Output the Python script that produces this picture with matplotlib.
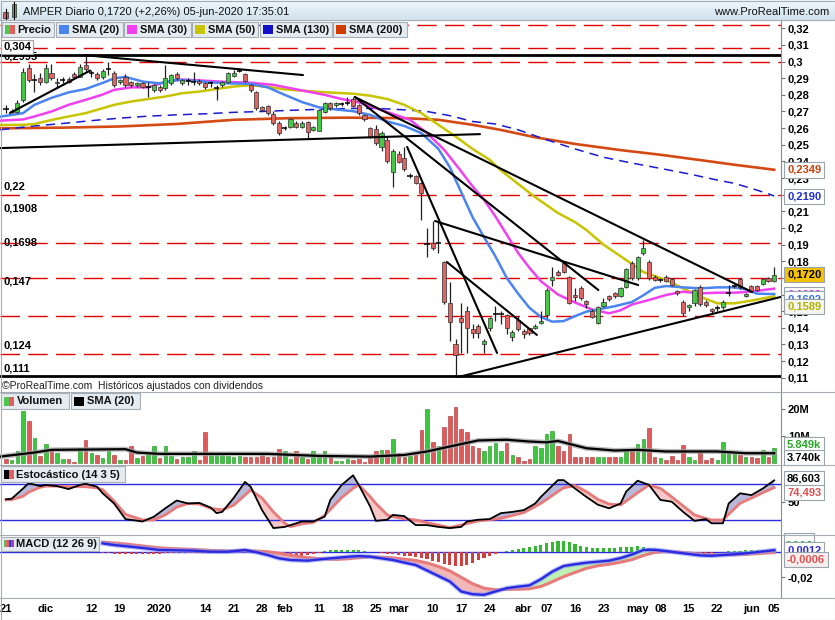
import numpy as np
import pandas as pd
import matplotlib
matplotlib.use('Agg')
import matplotlib.pyplot as plt
from matplotlib.patches import Rectangle
from matplotlib.colors import LinearSegmentedColormap

plt.rcParams['font.family'] = ['Liberation Sans', 'DejaVu Sans']

# Sesiones de la bolsa (sin festivos)
festivos = ['2019-12-25', '2019-12-26', '2020-01-01', '2020-04-10', '2020-04-13', '2020-05-01']
sesiones = pd.bdate_range('2019-11-21', '2020-06-05')
sesiones = sesiones[~sesiones.isin(pd.to_datetime(festivos))]

# Velas diarias AMPER
apertura = [.2715, .2695, .2699, .2769, .2959, .2889, .2899, .2879, .2933, .2869,
            .2889, .2893, .2925, .2909, .2979, .2933, .2925, .2905, .2953, .2933,
            .2875, .2909, .2875, .2859, .2869, .2849, .2829, .2849, .2839, .2869,
            .2925, .2869, .2885, .2879, .2885, .2869, .2869, .2839, .2859, .2879,
            .2913, .2945, .2925, .2859, .2819, .2725, .2733, .2685, .2629, .2599,
            .2609, .2629, .2609, .2639, .2589, .2585, .2699, .2749, .2740, .2745,
            .2753, .2773, .2739, .2679, .2599, .2593, .2485, .2528, .2338, .2443,
            .2419, .2312, .2312, .2268, .1903, .1910, .1908, .1797, .1547, .1301,
            .1461, .1501, .1391, .1411, .1303, .1397, .1483, .1483, .1477, .1346,
            .1447, .1381, .1397, .1397, .1430, .1477, .1690, .1737, .1788, .1703,
            .1600, .1637, .1560, .1503, .1427, .1531, .1591, .1607, .1591, .1647,
            .1788, .1697, .1848, .1797, .1707, .1690, .1703, .1693, .1623, .1557,
            .1523, .1547, .1643, .1557, .1513, .1517, .1523, .1607, .1651, .1693,
            .1591, .1651, .1651, .1663, .1697, .1680]
maximo = [.2740, .2715, .2769, .2960, .2985, .2925, .2930, .2985, .2985, .2900,
          .2905, .2905, .2935, .2985, .3039, .2950, .2935, .2955, .2999, .2945,
          .2895, .2925, .2885, .2880, .2875, .2879, .2865, .2860, .2979, .2925,
          .2935, .2895, .2900, .2939, .2895, .2880, .2885, .2860, .2885, .2935,
          .2950, .2960, .2930, .2865, .2825, .2735, .2740, .2700, .2640, .2615,
          .2660, .2640, .2640, .2645, .2615, .2715, .2755, .2760, .2760, .2760,
          .2787, .2787, .2745, .2685, .2605, .2620, .2580, .2550, .2475, .2460,
          .2485, .2330, .2320, .2275, .1998, .2040, .2037, .1800, .1677, .1331,
          .1547, .1530, .1420, .1420, .1335, .1465, .1530, .1500, .1485, .1385,
          .1470, .1390, .1400, .1420, .1500, .1640, .1767, .1750, .1800, .1710,
          .1640, .1650, .1570, .1510, .1530, .1580, .1600, .1615, .1645, .1760,
          .1800, .1830, .1928, .1810, .1715, .1700, .1715, .1700, .1630, .1565,
          .1545, .1635, .1660, .1565, .1520, .1535, .1565, .1660, .1665, .1700,
          .1610, .1660, .1660, .1700, .1705, .1767]
minimo = [.2690, .2688, .2692, .2760, .2880, .2819, .2860, .2870, .2890, .2840,
          .2870, .2870, .2900, .2905, .2945, .2905, .2890, .2895, .2919, .2845,
          .2865, .2850, .2850, .2850, .2840, .2789, .2820, .2820, .2830, .2860,
          .2890, .2860, .2860, .2860, .2860, .2835, .2850, .2769, .2850, .2870,
          .2905, .2935, .2880, .2820, .2710, .2700, .2680, .2620, .2560, .2590,
          .2600, .2600, .2600, .2539, .2580, .2580, .2690, .2710, .2730, .2735,
          .2740, .2725, .2680, .2645, .2540, .2500, .2460, .2390, .2248, .2390,
          .2345, .2300, .2265, .2048, .1827, .1870, .1848, .1540, .1322, .1106,
          .1247, .1247, .1340, .1340, .1247, .1380, .1440, .1420, .1360, .1320,
          .1380, .1340, .1355, .1390, .1420, .1460, .1650, .1710, .1730, .1540,
          .1560, .1570, .1520, .1460, .1420, .1525, .1560, .1580, .1585, .1640,
          .1690, .1690, .1840, .1690, .1680, .1675, .1675, .1650, .1600, .1470,
          .1500, .1530, .1530, .1525, .1490, .1500, .1515, .1590, .1640, .1635,
          .1585, .1615, .1620, .1655, .1675, .1675]
cierre = [.2714, .2702, .2753, .2939, .2889, .2890, .2879, .2959, .2899, .2879,
          .2890, .2880, .2909, .2969, .2953, .2934, .2899, .2945, .2954, .2859,
          .2887, .2859, .2859, .2869, .2845, .2850, .2859, .2829, .2899, .2919,
          .2899, .2889, .2886, .2880, .2869, .2845, .2870, .2840, .2879, .2929,
          .2933, .2946, .2885, .2829, .2719, .2709, .2689, .2629, .2569, .2600,
          .2653, .2609, .2629, .2579, .2609, .2709, .2749, .2719, .2752, .2746,
          .2754, .2733, .2689, .2653, .2548, .2509, .2569, .2402, .2462, .2398,
          .2352, .2313, .2272, .2208, .1904, .1880, .1909, .1553, .1433, .1236,
          .1433, .1397, .1367, .1367, .1322, .1457, .1484, .1484, .1397, .1376,
          .1391, .1363, .1367, .1411, .1440, .1627, .1705, .1717, .1737, .1547,
          .1585, .1577, .1545, .1467, .1523, .1557, .1571, .1591, .1637, .1751,
          .1697, .1824, .1878, .1697, .1687, .1691, .1683, .1657, .1607, .1491,
          .1537, .1627, .1543, .1537, .1501, .1518, .1557, .1608, .1652, .1643,
          .1603, .1623, .1627, .1695, .1682, .1720]

# Volumen en millones
volumen = [1.5, 1.25, 4.75, 19.6, 15.6, 9.4, 2.75, 7.1, 4.75, 3.75,
           1.5, 1.5, 0.6, 5.6, 8.75, 3.75, 3.1, 1.9, 4.4, 3.1,
           1.25, 1.25, 6.25, 1.9, 2.75, 3.75, 6.25, 1.9, 6.25, 2.75,
           1.5, 2.25, 2.25, 4.4, 1.25, 11.5, 3.1, 3.75, 3.1, 2.75,
           2.25, 2.75, 2.25, 2.5, 2.25, 3.5, 2.25, 2.25, 5.25, 4.75,
           1.5, 4.75, 2.25, 1.5, 4.75, 2.75, 4.75, 2.75, 1.0, 1.0,
           1.5, 1.25, 1.5, 0.6, 2.5, 4.75, 5.0, 5.0, 9.0, 4.0,
           2.5, 2.75, 3.5, 12.5, 20.0, 8.1, 6.25, 13.5, 17.5, 21.0,
           12.75, 11.5, 6.25, 5.6, 4.75, 6.25, 7.5, 4.75, 7.5, 3.1,
           2.5, 1.0, 1.5, 6.5, 5.6, 11.0, 11.9, 6.25, 4.75, 11.0,
           2.25, 2.5, 2.25, 2.5, 2.5, 2.25, 2.5, 2.5, 2.25, 4.4,
           4.75, 7.25, 9.0, 13.1, 2.5, 1.9, 1.25, 2.75, 1.25, 6.9,
           2.5, 1.25, 4.75, 1.25, 1.9, 1.25, 8.1, 3.75, 3.75, 3.1,
           2.25, 2.25, 1.9, 5.0, 2.5, 5.85]

# Medias moviles (sesion, valor)
sma20_x = [-1, 3, 5, 8, 11, 14, 17, 19, 21, 24, 27, 30, 33, 36, 39, 43, 46, 49, 52, 55,
           58, 61, 64, 67, 70, 73, 76, 78, 80, 82, 84, 86, 88, 90, 92, 94, 96, 98, 100, 102,
           104, 107, 110, 112, 114, 116, 119, 122, 125, 128, 130, 132, 135]
sma20_y = [.2669, .2690, .2740, .2782, .2815, .2835, .2872, .2899, .2908, .2880,
           .2869, .2890, .2885, .2875, .2869, .2866, .2845, .2800, .2757, .2725,
           .2712, .2702, .2680, .2640, .2613, .2570, .2475, .2365, .2215, .2065,
           .1945, .1830, .1700, .1605, .1520, .1465, .1437, .1440, .1470, .1497,
           .1510, .1530, .1555, .1595, .1640, .1651, .1643, .1637, .1643, .1643,
           .1631, .1605, .1603]
sma30_x = [-1, 3, 5, 8, 11, 14, 17, 19, 22, 25, 28, 31, 34, 38, 43, 47, 50, 53, 56, 59,
           62, 65, 68, 71, 74, 77, 80, 82, 84, 86, 88, 90, 92, 94, 97, 100, 103, 106, 108, 110,
           113, 116, 119, 122, 125, 128, 131, 134, 135]
sma30_y = [.2645, .2652, .2670, .2700, .2740, .2770, .2802, .2830, .2845, .2845,
           .2878, .2892, .2887, .2879, .2873, .2860, .2840, .2820, .2800, .2775,
           .2755, .2720, .2685, .2650, .2570, .2470, .2340, .2250, .2170, .2070,
           .1960, .1850, .1760, .1680, .1600, .1552, .1510, .1487, .1505, .1540,
           .1567, .1597, .1617, .1607, .1611, .1611, .1617, .1631, .1635]
sma50_x = [-1, 3, 5, 8, 11, 14, 17, 19, 22, 25, 28, 31, 34, 37, 40, 43, 46, 49, 52, 55,
           58, 61, 64, 67, 70, 73, 76, 79, 82, 85, 87, 90, 93, 97, 100, 102, 105, 109, 112, 116,
           119, 122, 125, 128, 131, 134, 135]
sma50_y = [.2619, .2620, .2625, .2649, .2670, .2690, .2720, .2740, .2760, .2775,
           .2790, .2810, .2820, .2835, .2850, .2858, .2848, .2833, .2825, .2818,
           .2812, .2807, .2795, .2775, .2740, .2690, .2620, .2550, .2475, .2410,
           .2345, .2265, .2185, .2090, .2035, .1988, .1900, .1807, .1735, .1687,
           .1637, .1587, .1547, .1547, .1563, .1583, .1589]
sma130_x = [-1, 5, 10, 15, 20, 25, 30, 35, 40, 45, 50, 55, 60, 65, 70, 74, 78, 82, 86, 90,
            95, 100, 105, 110, 115, 120, 125, 128, 131, 134, 135]
sma130_y = [.2590, .2613, .2628, .2645, .2660, .2672, .2680, .2686, .2695, .2700,
            .2707, .2713, .2718, .2719, .2710, .2700, .2675, .2640, .2625, .2590,
            .2530, .2475, .2425, .2390, .2358, .2325, .2288, .2268, .2238, .2205, .2192]
sma200_x = [-1, 10, 20, 30, 40, 50, 60, 70, 76, 82, 87, 93, 100, 108, 115, 122, 128, 135]
sma200_y = [.2599, .2603, .2610, .2625, .2650, .2660, .2663, .2660, .2650, .2620,
            .2589, .2545, .2505, .2468, .2440, .2408, .2380, .2350]

vol_sma_x = [-1, 5, 8, 21, 23, 27, 46, 55, 64, 70, 74, 78, 83, 88, 92, 95, 97, 102, 107, 111,
             116, 121, 125, 130, 135]
vol_sma_y = [2.5, 4.0, 5.0, 5.25, 4.0, 3.5, 3.5, 2.75, 2.5, 3.1, 4.4, 6.25, 8.5, 8.75, 8.1,
             7.8, 8.3, 5.6, 4.75, 5.0, 4.4, 4.4, 4.4, 3.75, 3.74]

# Estocastico (14 3 5)
sto_x = [0, 1, 3, 4, 6, 7, 9, 11, 13, 14, 16, 17, 19, 21, 24, 26, 28, 30, 32, 34,
         36, 37, 38, 40, 42, 43, 45, 47, 49, 50, 52, 54, 56, 57, 59, 61, 62, 64, 65, 67,
         68, 70, 72, 74, 76, 78, 80, 81, 83, 85, 87, 89, 91, 93, 94, 97, 98, 100, 102, 104,
         106, 108, 109, 111, 113, 115, 117, 119, 121, 123, 124, 126, 127, 129, 131, 133, 135]
sto_k = [55, 56, 73, 82, 77, 79, 77, 72, 79, 81, 76, 65, 48, 22, 18, 26, 40, 53, 48, 49,
         41, 32, 34, 57, 84, 76, 37, 7, 9, 12, 18, 18, 26, 54, 79, 95, 79, 43, 19, 21,
         29, 27, 12, 12, 9, 7, 9, 18, 21, 22, 32, 34, 37, 48, 59, 87, 87, 73, 59, 46,
         40, 48, 68, 86, 79, 54, 51, 34, 19, 22, 15, 15, 48, 65, 62, 73, 86.6]
sto_d = [54, 54.5, 60, 67, 75, 77, 77, 76, 76, 76, 74, 71, 52, 30, 20.6, 20.6, 29, 42, 48, 47,
         40, 38.5, 37.5, 45, 62, 70.6, 57, 34, 15, 9.4, 13.9, 16.5, 28, 38, 58, 73.3, 79, 59.4, 48, 29,
         26, 22.5, 20.6, 16.1, 12, 7.8, 12.2, 14.5, 19, 21, 23.3, 28, 32.8, 43, 48.3, 67.8, 74, 78, 67.8, 55,
         47, 45.6, 52, 66, 78.9, 73.3, 59, 44, 29, 23, 20.6, 20.6, 30, 48.3, 57, 66, 74.5]

# MACD (12 26 9)
macd_x = [17, 19, 21, 23, 25, 27, 30, 33, 36, 39, 42, 44, 46, 48, 50, 53, 56, 58, 60, 62,
          64, 66, 68, 70, 72, 74, 76, 78, 80, 82, 84, 86, 88, 90, 92, 94, 96, 98, 100, 102,
          104, 106, 108, 110, 112, 114, 116, 118, 120, 122, 124, 126, 128, 130, 132, 135]
macd = [.0065, .0052, .0043, .0034, .0024, .0013, .0011, .0008, .0000, .0000,
        .0013, -.0004, -.0026, -.0052, -.0065, -.0070, -.0056, -.0048, -.0040, -.0034,
        -.0039, -.0052, -.0065, -.0085, -.0104, -.0147, -.0190, -.0233, -.0311, -.0332,
        -.0337, -.0311, -.0285, -.0273, -.0263, -.0215, -.0156, -.0112, -.0098, -.0086,
        -.0078, -.0070, -.0050, -.0022, .0013, .0015, .0005, -.0007, -.0018, -.0029,
        -.0032, -.0026, -.0020, -.0013, -.0003, .0012]
senal = [.0075, .0068, .0060, .0050, .0040, .0030, .0023, .0018, .0010, .0006,
         .0008, .0005, .0000, -.0012, -.0028, -.0046, -.0057, -.0060, -.0056, -.0047,
         -.0040, -.0043, -.0048, -.0058, -.0068, -.0088, -.0115, -.0150, -.0200, -.0250,
         -.0285, -.0297, -.0295, -.0293, -.0290, -.0272, -.0235, -.0195, -.0162, -.0130,
         -.0110, -.0098, -.0082, -.0062, -.0030, -.0005, .0002, -.0002, -.0010, -.0019,
         -.0024, -.0023, -.0024, -.0021, -.0015, -.0006]
histograma = [-.0010, -.0012, -.0015, -.0016, -.0018, -.0018, -.0020, -.0020, -.0018, -.0016,
              -.0015, -.0014, -.0012, -.0012, -.0010, -.0010, -.0010, -.0009, -.0009, -.0008,
              -.0008, -.0006, -.0004, -.0002, .0002, .0003, -.0002, -.0010, -.0020,
              -.0030, -.0038, -.0042, -.0040, -.0038, -.0034, -.0030, -.0024, -.0018, -.0010,
              .0002, .0010, .0014, .0016, .0017, .0016, .0012, .0006, -.0002,
              -.0005, -.0010, -.0015, -.0020, -.0025, -.0030, -.0035, -.0040, -.0048, -.0058,
              -.0070, -.0082, -.0095, -.0106, -.0115, -.0112, -.0100, -.0085, -.0068, -.0050,
              -.0032, -.0015, -.0002,
              .0008, .0015, .0022, .0030, .0038, .0046, .0055, .0065, .0075, .0083,
              .0080, .0072, .0060, .0048, .0038, .0032, .0030, .0030, .0030, .0031,
              .0033, .0036, .0040, .0044, .0040, .0030, .0018, .0008, .0002,
              -.0002, -.0006, -.0008, -.0008, -.0009, -.0010, -.0009, -.0008, -.0006, -.0004,
              .0002, .0006, .0009, .0010, .0010, .0012, .0014, .0016, .0018]
hist_x = list(range(17, 136))

# Niveles y lineas de tendencia dibujadas
niveles_rojos = [0.322, 0.308, 0.2995, 0.22, 0.1908, 0.1698, 0.147, 0.124]
niveles_negros = [0.304, 0.111]
tend_x0 = [13.7, 0.7, -1.05, 61.3, 61.3, 70.5, 75.4, 77.5, 79.5]
tend_y0 = [.3039, .2691, .2480, .2787, .2787, .2487, .2042, .1795, .1104]
tend_x1 = [52.2, 14.8, 83.3, 131.1, 104.1, 86.3, 111.1, 93.3, 136.1]
tend_y1 = [.2919, .2946, .2564, .1615, .1627, .1249, .1657, .1357, .1585]

eje_fechas = ['2019-11-21', '2019-12-02', '2019-12-12', '2019-12-19', '2020-01-02', '2020-01-14',
              '2020-01-21', '2020-01-28', '2020-02-03', '2020-02-11', '2020-02-18', '2020-02-25',
              '2020-03-02', '2020-03-10', '2020-03-17', '2020-03-24', '2020-04-01', '2020-04-07',
              '2020-04-16', '2020-04-23', '2020-05-04', '2020-05-08', '2020-05-15', '2020-05-22',
              '2020-06-01', '2020-06-05']
eje_textos = ['21', 'dic', '12', '19', '2020', '14', '21', '28', 'feb', '11', '18', '25', 'mar',
              '10', '17', '24', 'abr', '07', '16', '23', 'may', '08', '15', '22', 'jun', '05']

# ---------------------------------------------------------------
W, H = 835, 620
PX = 72 / 100  # puntos por pixel
fig = plt.figure(figsize=(W / 100, H / 100), dpi=100)
fig.patch.set_facecolor('white')


def panel(y0, y1):
    ax = fig.add_axes([0, 1 - y1 / H, 781 / W, (y1 - y0) / H])
    ax.set_xlim(-1.05, 136.2)
    for s in ['top', 'left', 'bottom']:
        ax.spines[s].set_visible(False)
    ax.spines['right'].set_color('#8c8c8c')
    ax.yaxis.tick_right()
    ax.tick_params(axis='y', length=3, color='#707070', pad=2, labelsize=8)
    ax.tick_params(axis='x', length=0, labelbottom=False)
    return ax


def etiqueta(ax, valor, texto, color, fondo='white', dy=0):
    ax.annotate(texto, xy=(1, valor), xycoords=('axes fraction', 'data'),
                xytext=(6 * PX, -dy * PX), textcoords='offset points',
                ha='left', va='center', fontsize=8, fontweight='bold', color=color,
                bbox=dict(boxstyle='square,pad=0.25', fc=fondo, ec='#9aa4ae', lw=0.8),
                annotation_clip=False, zorder=20)


o, h, l, c = map(np.array, (apertura, maximo, minimo, cierre))
x = np.arange(len(c))
sube = c >= o
doji = np.abs(c - o) < 0.00015
col_vela = np.where(sube, '#46c846', '#e06464')

# ---- precio ----
ap = panel(20, 392)
ap.set_ylim(0.10141, 0.32499)
ticks = np.arange(0.11, 0.3201, 0.01)
ocultos = ['0,22', '0,17', '0,16']  # tapados por las cajas de valor
textos_y = [f'{t:.2f}'.rstrip('0').replace('.', ',') for t in ticks]
ap.set_yticks(ticks)
ap.set_yticklabels(['' if t in ocultos else t for t in textos_y], fontweight='bold')

for n in niveles_rojos:
    ap.axhline(n, color='#e00000', lw=1, dashes=(14, 6), zorder=1)
for n in niveles_negros:
    ap.axhline(n, color='black', lw=2, zorder=6)

ap.plot(sma200_x, sma200_y, color='#d44a14', lw=1.9, zorder=2)
ap.plot(sma130_x, sma130_y, color='#1a1ad0', lw=1.1, dashes=(6, 4), zorder=2)
ap.plot(sma50_x, sma50_y, color='#c8c400', lw=1.8, zorder=2)
ap.plot(sma30_x, sma30_y, color='#f040f0', lw=1.8, zorder=2)
ap.plot(sma20_x, sma20_y, color='#4a84f0', lw=1.8, zorder=2)

ap.vlines(x, l, h, color='#202020', lw=0.9, zorder=3)
cuerpo = ~doji
ap.bar(x[cuerpo], np.abs(c - o)[cuerpo], bottom=np.minimum(o, c)[cuerpo], width=0.72,
       color=col_vela[cuerpo], edgecolor='#303030', lw=0.5, zorder=4)
ap.hlines(o[doji], x[doji] - 0.45, x[doji] + 0.45, color='black', lw=1.1, zorder=4)

for a, b, p, q in zip(tend_x0, tend_y0, tend_x1, tend_y1):
    ap.plot([a, p], [b, q], color='black', lw=1.5, zorder=6, solid_capstyle='round')

# etiquetas de niveles a la izquierda
izq = [(0.2995, '0,2995', -5.5, False), (0.304, '0,304', -8.2, True), (0.22, '0,22', -8.4, False),
       (0.1908, '0,1908', -35, False), (0.1698, '0,1698', -36, False), (0.147, '0,147', -35, False),
       (0.124, '0,124', -9.4, False), (0.111, '0,111', -8, False)]
for v, t, dy, caja in izq:
    kw = dict(bbox=dict(boxstyle='square,pad=0.2', fc='white', ec='#a0a0a0', lw=0.8)) if caja else {}
    ap.annotate(t, xy=(0, v), xycoords=('axes fraction', 'data'), xytext=(3 * PX, -dy * PX),
                textcoords='offset points', ha='left', va='center', fontsize=8,
                fontweight='bold', zorder=21, **kw)

etiqueta(ap, 0.2349, '0,2349', '#c84010')
etiqueta(ap, 0.2190, '0,2190', '#2030d0')
etiqueta(ap, 0.1633, '0,1633', '#e030e0', dy=5.5)
etiqueta(ap, 0.1602, '0,1602', '#3a6ef0', dy=5)
etiqueta(ap, 0.1589, '0,1589', '#b4b000', fondo='#f6f6f0', dy=10)
etiqueta(ap, 0.1720, '0,1720', 'black', fondo='#f4c200')

# ---- volumen ----
av = panel(392, 465)
av.set_ylim(-0.63, 26.5)
av.set_yticks([10, 20])
av.set_yticklabels(['10M', '20M'], fontweight='bold')
av.bar(x, volumen, width=0.62, color=np.where(sube, '#3cc83c', '#e05a5a'),
       edgecolor=np.where(sube, '#1e8c1e', '#a83030'), lw=0.4)
av.plot(vol_sma_x, vol_sma_y, color='#a0a0a0', lw=3.6, alpha=0.7)
av.plot(vol_sma_x, vol_sma_y, color='black', lw=1.6)
etiqueta(av, 5.849, '5.849k', '#28a828', dy=-2.6)
etiqueta(av, 3.740, '3.740k', 'black', dy=4.3)

# ---- estocastico ----
ak = panel(465, 535)
ak.set_ylim(-4.5, 112.2)
ak.set_yticks([50])
ak.set_yticklabels(['50'], fontweight='bold')
ak.axhline(80, color='#2a2ae0', lw=1)
ak.axhline(20, color='#2a2ae0', lw=1)
sk, sd = np.array(sto_k), np.array(sto_d)
ak.fill_between(sto_x, sk, sd, where=sk >= sd, interpolate=True, color='#b8b8da', lw=0)
ak.fill_between(sto_x, sk, sd, where=sk < sd, interpolate=True, color='#f6c8c8', lw=0)
ak.plot(sto_x, sd, color='#e87a7a', lw=2)
ak.plot(sto_x, sk, color='black', lw=1.3)
etiqueta(ak, 86.603, '86,603', 'black', dy=-2)
etiqueta(ak, 74.493, '74,493', '#e05050', dy=5)

# ---- MACD ----
am = panel(535, 598)
am.set_ylim(-0.03617, 0.01305)
am.set_yticks([-0.02])
am.set_yticklabels(['-0,02'], fontweight='bold')
am.axhline(0, color='#2a2ae0', lw=1, zorder=1)
hv = np.array(histograma)
am.bar(hist_x, hv, width=0.55, color=np.where(hv >= 0, '#34b834', '#d04040'), lw=0, zorder=2)
mv, sv = np.array(macd), np.array(senal)
am.fill_between(macd_x, mv, sv, where=mv >= sv, interpolate=True, color='#bff0b4', lw=0, zorder=3)
am.fill_between(macd_x, mv, sv, where=mv < sv, interpolate=True, color='#f2b8b8', lw=0, zorder=3)
am.plot(macd_x, sv, color='#e87a7a', lw=2.2, zorder=4)
am.plot(macd_x, mv, color='#8a94f4', lw=3.4, alpha=0.6, zorder=5)
am.plot(macd_x, mv, color='#2a2ae0', lw=1.7, zorder=5)
etiqueta(am, 0.0018, '- - - -', '#34b834', dy=-8.5)
etiqueta(am, 0.0012, '0,0012', '#2a2ae0')
etiqueta(am, -0.0006, '-0,0006', '#e05050', fondo='#f8eeee', dy=7)

pos = [sesiones.get_loc(pd.Timestamp(d)) for d in eje_fechas]
am.set_xticks(pos)
am.set_xticklabels(eje_textos, fontweight='bold', fontsize=8)
am.tick_params(axis='x', length=0, pad=4, labelbottom=True)

# ---- capa de rotulos (coordenadas en pixeles) ----
ov = fig.add_axes([0, 0, 1, 1], zorder=10)
ov.axis('off')
grad = np.linspace(0, 1, 20).reshape(-1, 1)
ov.imshow(grad, extent=(0, W, 20, 0), aspect='auto',
          cmap=LinearSegmentedColormap.from_list('barra', ['#eef6fb', '#d2e4f0']))
ov.set_xlim(0, W)
ov.set_ylim(H, 0)

# icono de velas
ov.plot([5.8, 5.8], [9, 20], color='black', lw=0.8)
ov.add_patch(Rectangle((3.3, 11.7), 5, 6.5, fc='#e06060', ec='#303030', lw=0.5))
ov.plot([13.8, 13.8], [2, 19], color='black', lw=0.8)
ov.add_patch(Rectangle((11.7, 4), 4.3, 12.5, fc='#40c040', ec='#303030', lw=0.5))
ov.text(23, 12, 'AMPER Diario 0,1720 (+2,26%) 05-jun-2020 17:35:01', fontsize=8,
        va='center', ha='left', color='#101010')
ov.text(829, 12, 'www.ProRealTime.com', fontsize=8, va='center', ha='right', color='#101010')

for yy in [20, 392, 465, 535, 598]:
    ov.plot([0, W], [yy, yy], color='#a4acb4', lw=0.8)
ov.add_patch(Rectangle((0.5, 0.5), W - 1, H - 1, fill=False, ec='#a4acb4', lw=0.8))


def leyenda(x0, x1, y0, y1, texto, colores):
    ov.add_patch(Rectangle((x0, y0), x1 - x0, y1 - y0, fc='#e4ebf1', ec='#a6aeb6', lw=0.8))
    n = len(colores)
    ancho = 10 / n
    for k, col in enumerate(colores):
        ov.add_patch(Rectangle((x0 + 3 + k * ancho, y0 + 3.5), ancho, y1 - y0 - 7, fc=col, lw=0))
    ov.text(x0 + 16, (y0 + y1) / 2 + 0.5, texto, fontsize=8, fontweight='bold',
            va='center', ha='left', color='#101010')


leyenda(1.5, 54, 21.7, 37.3, 'Precio', ['#50c850', '#e06060'])
leyenda(56, 122.7, 21.7, 37.3, 'SMA (20)', ['#4a84f0'])
leyenda(124, 191, 21.7, 37.3, 'SMA (30)', ['#f040f0'])
leyenda(192, 258, 21.7, 37.3, 'SMA (50)', ['#c8c400'])
leyenda(260, 332, 21.7, 37.3, 'SMA (130)', ['#1010c8'])
leyenda(333, 407, 21.7, 37.3, 'SMA (200)', ['#d03c00'])
leyenda(0.5, 69, 393, 409, 'Volumen', ['#50c850', '#e06060'])
leyenda(71, 139.5, 393, 409, 'SMA (20)', ['black'])
leyenda(0.5, 125, 466, 482, 'Estocástico (14 3 5)', ['black', '#e06060'])
leyenda(0.5, 98.5, 536.7, 550.7, 'MACD (12 26 9)', ['#50c850', '#e06060', '#3040e0', '#a040c0'])

ov.text(2, 386, '©ProRealTime.com  Históricos ajustados con dividendos', fontsize=7.5,
        va='center', ha='left', color='#202020')

fig.savefig('out.png', dpi=100)
